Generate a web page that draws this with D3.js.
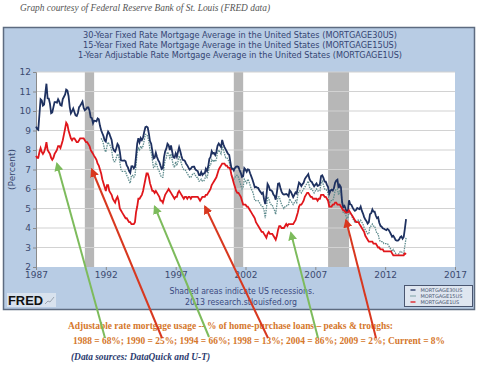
<!DOCTYPE html>
<meta charset="utf-8">
<style>
body { margin: 0; background: #fff; }
svg { display: block; font-family: "DejaVu Sans", Verdana, sans-serif; }
.serif { font-family: "Liberation Serif", "Times New Roman", serif; }
</style>
<svg width="480" height="365"></svg>
<script src="https://cdn.jsdelivr.net/npm/d3@7"></script>
<script>
// monthly values, 30-yr from Jan 1987, 15-yr from Sep 1991, 1-yr ARM from Jan 1987
var start30 = new Date(1987, 0, 1);
var start15 = new Date(1991, 8, 1);
var start1 = new Date(1987, 0, 1);

var rate30 = [
  9.20, 9.08, 9.04, 9.83, 10.60, 10.54, 10.28, 10.33, 10.89, 11.40, 10.65, 10.64,
  10.38, 9.89, 9.93, 10.20, 10.46, 10.46, 10.43, 10.60, 10.48, 10.30, 10.27, 10.61,
  10.73, 10.85, 11.10, 11.05, 10.77, 10.20, 9.88, 9.99, 10.13, 9.95, 9.77, 9.74,
  9.90, 10.20, 10.27, 10.37, 10.48, 10.16, 10.04, 10.10, 10.18, 10.18, 10.01, 9.67,
  9.64, 9.37, 9.50, 9.49, 9.47, 9.62, 9.58, 9.24, 9.01, 8.86, 8.71, 8.50,
  8.43, 8.76, 8.94, 8.85, 8.67, 8.51, 8.13, 7.98, 7.92, 8.09, 8.31, 8.22,
  7.91, 7.47, 7.46, 7.46, 7.47, 7.42, 7.21, 7.11, 6.92, 6.83, 7.16, 7.17,
  7.06, 7.15, 7.68, 8.32, 8.60, 8.40, 8.61, 8.51, 8.64, 8.93, 9.17, 9.20,
  9.15, 8.83, 8.46, 8.32, 7.96, 7.57, 7.61, 7.86, 7.64, 7.48, 7.38, 7.20,
  7.03, 7.08, 7.62, 7.93, 8.07, 8.32, 8.25, 8.00, 8.23, 7.92, 7.62, 7.60,
  7.82, 7.65, 7.90, 8.14, 7.94, 7.69, 7.50, 7.48, 7.43, 7.29, 7.21, 7.10,
  6.99, 7.04, 7.13, 7.14, 7.14, 7.00, 6.95, 6.92, 6.72, 6.71, 6.87, 6.72,
  6.79, 6.81, 7.04, 6.92, 7.15, 7.55, 7.63, 7.94, 7.82, 7.85, 7.74, 7.91,
  8.21, 8.33, 8.24, 8.15, 8.52, 8.29, 8.15, 8.03, 7.91, 7.80, 7.75, 7.38,
  7.03, 7.05, 6.95, 7.08, 7.15, 7.16, 7.13, 6.95, 6.82, 6.62, 6.66, 7.07,
  7.00, 6.89, 7.01, 6.99, 6.81, 6.65, 6.49, 6.29, 6.09, 6.11, 6.07, 6.05,
  5.92, 5.84, 5.75, 5.81, 5.48, 5.23, 5.63, 6.26, 6.15, 5.95, 5.93, 5.88,
  5.71, 5.64, 5.45, 5.83, 6.27, 6.29, 6.06, 5.87, 5.75, 5.72, 5.73, 5.75,
  5.71, 5.63, 5.93, 5.86, 5.72, 5.58, 5.70, 5.82, 5.77, 6.07, 6.33, 6.27,
  6.15, 6.25, 6.32, 6.51, 6.60, 6.68, 6.76, 6.52, 6.40, 6.36, 6.24, 6.14,
  6.22, 6.29, 6.16, 6.18, 6.26, 6.66, 6.70, 6.57, 6.38, 6.38, 6.21, 6.10,
  5.76, 5.92, 5.97, 5.92, 6.04, 6.32, 6.43, 6.48, 6.04, 6.20, 6.09, 5.33,
  5.06, 5.13, 5.00, 4.81, 4.86, 5.42, 5.22, 5.19, 5.06, 4.95, 4.88, 4.93,
  5.03, 4.99, 4.97, 5.10, 4.89, 4.74, 4.56, 4.43, 4.35, 4.23, 4.30, 4.71,
  4.76, 4.95, 4.84, 4.84, 4.64, 4.51, 4.55, 4.27, 4.11, 4.07, 3.99, 3.96,
  3.92, 3.89, 3.95, 3.91, 3.80, 3.68, 3.55, 3.60, 3.50, 3.38, 3.35, 3.35,
  3.41, 3.53, 3.57, 3.45, 3.54, 3.98, 4.46
];

var rate15 = [
  8.6, 8.5, 8.3, 8.0,
  7.9, 8.2, 8.4, 8.3, 8.2, 8.0, 7.6, 7.4, 7.4, 7.6, 7.8, 7.7,
  7.4, 7.0, 6.9, 6.9, 6.9, 6.9, 6.7, 6.6, 6.4, 6.3, 6.7, 6.7,
  6.6, 6.7, 7.2, 7.9, 8.1, 8.0, 8.2, 8.1, 8.2, 8.5, 8.8, 8.8,
  8.7, 8.4, 8.0, 7.9, 7.5, 7.1, 7.1, 7.4, 7.2, 7.0, 6.9, 6.7,
  6.6, 6.6, 7.1, 7.5, 7.6, 7.9, 7.8, 7.6, 7.8, 7.5, 7.2, 7.1,
  7.4, 7.2, 7.4, 7.7, 7.5, 7.3, 7.1, 7.0, 7.0, 6.9, 6.8, 6.7,
  6.6, 6.6, 6.7, 6.8, 6.8, 6.7, 6.6, 6.6, 6.4, 6.4, 6.5, 6.4,
  6.4, 6.5, 6.7, 6.6, 6.8, 7.2, 7.2, 7.5, 7.4, 7.5, 7.4, 7.5,
  7.9, 8.0, 7.9, 7.8, 8.2, 8.0, 7.8, 7.6, 7.6, 7.5, 7.4, 7.1,
  6.7, 6.6, 6.5, 6.6, 6.7, 6.7, 6.6, 6.4, 6.2, 6.0, 6.1, 6.5,
  6.4, 6.3, 6.5, 6.4, 6.2, 6.0, 5.9, 5.7, 5.4, 5.4, 5.4, 5.4,
  5.3, 5.2, 5.1, 5.1, 4.9, 4.5, 5.0, 5.6, 5.5, 5.3, 5.2, 5.2,
  5.0, 4.9, 4.7, 5.2, 5.6, 5.6, 5.4, 5.2, 5.1, 5.0, 5.1, 5.1,
  5.2, 5.2, 5.5, 5.4, 5.3, 5.2, 5.3, 5.4, 5.3, 5.7, 5.9, 5.9,
  5.8, 5.9, 6.0, 6.1, 6.2, 6.3, 6.4, 6.1, 6.0, 6.0, 5.9, 5.8,
  5.9, 6.0, 5.9, 5.9, 5.9, 6.3, 6.4, 6.2, 6.0, 6.0, 5.9, 5.8,
  5.2, 5.4, 5.4, 5.4, 5.6, 5.9, 6.0, 6.0, 5.7, 5.9, 5.9, 5.3,
  4.8, 4.8, 4.7, 4.5, 4.5, 4.9, 4.7, 4.7, 4.5, 4.4, 4.3, 4.3,
  4.4, 4.4, 4.3, 4.4, 4.3, 4.2, 4.0, 3.9, 3.8, 3.7, 3.7, 4.1,
  4.1, 4.2, 4.1, 4.1, 3.9, 3.7, 3.7, 3.4, 3.3, 3.3, 3.3, 3.2,
  3.2, 3.2, 3.2, 3.1, 3.0, 2.9, 2.8, 2.9, 2.8, 2.7, 2.6, 2.6,
  2.7, 2.8, 2.8, 2.7, 2.7, 3.1, 3.5
];

var rate1 = [
  7.7, 7.6, 7.6, 7.9, 8.1, 7.9, 7.8, 7.9, 8.1, 8.4, 8.0, 7.9,
  7.8, 7.6, 7.5, 7.6, 7.8, 7.9, 8.0, 8.2, 8.2, 8.1, 8.3, 8.5,
  8.8, 9.1, 9.4, 9.3, 9.0, 8.8, 8.6, 8.5, 8.6, 8.6, 8.5, 8.4,
  8.4, 8.5, 8.6, 8.6, 8.6, 8.6, 8.5, 8.4, 8.4, 8.3, 8.2, 8.0,
  7.9, 7.8, 7.7, 7.6, 7.5, 7.3, 7.2, 7.0, 6.8, 6.5, 6.3, 6.1,
  5.9, 6.2, 6.2, 5.9, 5.8, 5.7, 5.5, 5.4, 5.3, 5.5, 5.6, 5.4,
  5.0, 4.9, 4.8, 4.7, 4.6, 4.5, 4.5, 4.4, 4.3, 4.3, 4.2, 4.2,
  4.2, 4.3, 4.8, 5.1, 5.5, 5.5, 5.6, 5.7, 5.9, 6.2, 6.5, 6.8,
  6.8, 6.6, 6.3, 6.1, 5.9, 5.9, 5.8, 5.9, 5.8, 5.7, 5.6, 5.4,
  5.4, 5.3, 5.5, 5.7, 5.8, 5.9, 6.0, 5.9, 5.8, 5.7, 5.6, 5.5,
  5.6, 5.6, 5.8, 5.9, 5.8, 5.7, 5.6, 5.5, 5.6, 5.6, 5.5, 5.6,
  5.6, 5.5, 5.6, 5.6, 5.6, 5.6, 5.6, 5.6, 5.5, 5.4, 5.5, 5.6,
  5.6, 5.6, 5.7, 5.7, 5.8, 5.9, 6.0, 6.2, 6.3, 6.4, 6.5, 6.6,
  6.8, 7.0, 7.1, 7.2, 7.3, 7.3, 7.3, 7.2, 7.2, 7.1, 7.1, 7.0,
  6.7, 6.5, 6.3, 6.1, 5.9, 5.8, 5.8, 5.7, 5.6, 5.4, 5.2, 5.2,
  5.2, 5.1, 5.1, 5.0, 4.9, 4.8, 4.7, 4.6, 4.5, 4.3, 4.2, 4.1,
  4.0, 3.9, 3.8, 3.8, 3.7, 3.6, 3.5, 3.7, 3.8, 3.7, 3.7, 3.7,
  3.6, 3.5, 3.4, 3.6, 3.9, 4.1, 4.1, 4.0, 4.0, 4.0, 4.1, 4.2,
  4.1, 4.2, 4.2, 4.2, 4.2, 4.2, 4.3, 4.4, 4.6, 4.8, 5.1, 5.2,
  5.2, 5.3, 5.4, 5.6, 5.7, 5.8, 5.8, 5.7, 5.6, 5.6, 5.5, 5.5,
  5.5, 5.5, 5.4, 5.5, 5.5, 5.7, 5.7, 5.7, 5.6, 5.6, 5.5, 5.4,
  5.1, 5.1, 5.1, 5.2, 5.2, 5.3, 5.3, 5.2, 5.2, 5.2, 5.1, 5.0,
  4.9, 4.9, 4.8, 4.8, 4.8, 4.9, 4.8, 4.7, 4.6, 4.5, 4.4, 4.3,
  4.3, 4.3, 4.2, 4.1, 4.0, 3.9, 3.8, 3.6, 3.5, 3.4, 3.3, 3.3,
  3.3, 3.3, 3.2, 3.2, 3.2, 3.1, 3.0, 3.0, 2.9, 2.9, 2.9, 2.8,
  2.8, 2.8, 2.8, 2.8, 2.8, 2.8, 2.7, 2.6, 2.6, 2.6, 2.6, 2.6,
  2.6, 2.6, 2.6, 2.6, 2.6, 2.7, 2.65
];

var recessions = [[new Date(1990, 6, 1), new Date(1991, 2, 1)],
                  [new Date(2001, 2, 1), new Date(2001, 10, 1)],
                  [new Date(2007, 11, 1), new Date(2009, 5, 1)]];

var yTicks = [2, 3, 4, 5, 6, 7, 8, 9, 10, 11, 12];
var xTicks = [1987, 1992, 1997, 2002, 2007, 2012, 2017];

var titles = [
  "30-Year Fixed Rate Mortgage Average in the United States (MORTGAGE30US)",
  "15-Year Fixed Rate Mortgage Average in the United States (MORTGAGE15US)",
  "1-Year Adjustable Rate Mortgage Average in the United States (MORTGAGE1US)"
];
var legendNames = ["MORTGAGE30US", "MORTGAGE15US", "MORTGAGE1US"];

// arrows: chart point (year, percent) they point at, and pixel start near the note text
var arrows = [
  { to: [1988.5, 7.3], from: [105, 338], c: "#7dbb5c" },
  { to: [1991.0, 7.0], from: [162, 338], c: "#d8381f" },
  { to: [1995.5, 5.1], from: [209, 337], c: "#7dbb5c" },
  { to: [1999.1, 5.1], from: [268, 338], c: "#d8381f" },
  { to: [2005.25, 3.75], from: [318, 338], c: "#7dbb5c" },
  { to: [2009.2, 4.4], from: [376, 338], c: "#d8381f" }
];

var svg = d3.select("svg");

var pL = 36, pR = 455, pT = 72, pB = 267;

var x = d3.scaleTime()
    .domain([new Date(1987, 0, 1), new Date(2017, 0, 1)])
    .range([pL, pR]);
var y = d3.scaleLinear().domain([2, 12]).range([pB, pT]);

function yr(v) {
  var yy = Math.floor(v);
  return new Date(new Date(yy, 0, 1).getTime() + (v - yy) * 365.25 * 864e5);
}

function series(startDate, vals) {
  return vals.map(function(v, i) { return { date: d3.timeMonth.offset(startDate, i), v: v }; });
}

// caption
svg.append("text")
    .attr("class", "serif")
    .attr("x", 20).attr("y", 11)
    .attr("font-size", 10.5)
    .attr("font-style", "italic")
    .attr("fill", "#555")
    .attr("textLength", 250)
    .attr("lengthAdjust", "spacingAndGlyphs")
    .text("Graph courtesy of Federal Reserve Bank of St. Louis (FRED data)");

// panel
svg.append("rect")
    .attr("x", 3.5).attr("y", 27.5)
    .attr("width", 471).attr("height", 282)
    .attr("fill", "#b8cce4")
    .attr("stroke", "#5d6b80")
    .attr("stroke-width", 1.5);

svg.selectAll(".title")
    .data(titles)
  .enter().append("text")
    .attr("x", 240)
    .attr("y", function(d, i) { return 37.5 + i * 10; })
    .attr("text-anchor", "middle")
    .attr("font-size", 8.6)
    .attr("fill", "#354573")
    .attr("textLength", function(d, i) { return i == 2 ? 324 : 314; })
    .attr("lengthAdjust", "spacingAndGlyphs")
    .text(function(d) { return d; });

// plot bg
svg.append("rect")
    .attr("x", pL).attr("y", pT)
    .attr("width", pR - pL).attr("height", pB - pT)
    .attr("fill", "#fff");

svg.selectAll(".rec")
    .data(recessions)
  .enter().append("rect")
    .attr("x", function(d) { return x(d[0]); })
    .attr("y", pT)
    .attr("width", function(d) { return x(d[1]) - x(d[0]); })
    .attr("height", pB - pT)
    .attr("fill", "#b7b7b7");

svg.selectAll(".grid")
    .data(yTicks.slice(1))
  .enter().append("line")
    .attr("x1", pL).attr("x2", pR)
    .attr("y1", function(d) { return y(d); })
    .attr("y2", function(d) { return y(d); })
    .attr("stroke", "#d2d2d2")
    .attr("stroke-width", 1.2);

// axes
var yAxis = svg.append("g")
    .attr("transform", "translate(" + pL + ",0)")
    .call(d3.axisLeft(y).tickValues(yTicks).tickSize(3).tickPadding(2));
var xAxis = svg.append("g")
    .attr("transform", "translate(0," + pB + ")")
    .call(d3.axisBottom(x).tickValues(xTicks.map(function(d) { return new Date(d, 0, 1); }))
      .tickFormat(d3.timeFormat("%Y")).tickSize(3).tickPadding(0));
[yAxis, xAxis].forEach(function(a) {
  a.select(".domain").attr("stroke", "#8a8a8a");
  a.selectAll(".tick line").attr("stroke", "#8a8a8a");
  a.selectAll("text").attr("fill", "#3b4a70").attr("font-size", 9)
    .attr("font-family", "DejaVu Sans, sans-serif");
});
xAxis.select(".domain").remove();
xAxis.selectAll("text").attr("dy", "0.85em");

svg.append("text")
    .attr("transform", "translate(15," + ((pT + pB) / 2) + ") rotate(-90)")
    .attr("text-anchor", "middle")
    .attr("font-size", 9)
    .attr("fill", "#3b4a70")
    .text("(Percent)");

var line = d3.line()
    .x(function(d) { return x(d.date); })
    .y(function(d) { return y(d.v); });

svg.append("path")
    .datum(series(start15, rate15))
    .attr("d", line)
    .attr("fill", "none")
    .attr("stroke", "#5f8c8e")
    .attr("stroke-width", 1.3)
    .attr("stroke-dasharray", "1.5,1");

svg.append("path")
    .datum(series(start30, rate30))
    .attr("d", line)
    .attr("fill", "none")
    .attr("stroke", "#1e3160")
    .attr("stroke-width", 1.8);

svg.append("path")
    .datum(series(start1, rate1))
    .attr("d", line)
    .attr("fill", "none")
    .attr("stroke", "#e0161b")
    .attr("stroke-width", 1.8);

// bottom notes in panel
svg.append("text")
    .attr("x", 242).attr("y", 294)
    .attr("text-anchor", "middle")
    .attr("font-size", 9.5)
    .attr("fill", "#3b4a80")
    .attr("textLength", 145).attr("lengthAdjust", "spacingAndGlyphs")
    .text("Shaded areas indicate US recessions.");
svg.append("text")
    .attr("x", 241).attr("y", 305)
    .attr("text-anchor", "middle")
    .attr("font-size", 9.5)
    .attr("fill", "#3b4a80")
    .attr("textLength", 112).attr("lengthAdjust", "spacingAndGlyphs")
    .text("2013 research.stlouisfed.org");

// FRED logo
svg.append("rect")
    .attr("x", 7).attr("y", 293).attr("width", 49).attr("height", 14)
    .attr("fill", "#d8e2ee");
svg.append("text")
    .attr("x", 8).attr("y", 305)
    .attr("font-size", 13)
    .attr("font-weight", "bold")
    .attr("font-family", "Liberation Sans, Arial, sans-serif")
    .attr("fill", "#111")
    .attr("textLength", 35).attr("lengthAdjust", "spacingAndGlyphs")
    .text("FRED");
svg.append("path")
    .attr("d", "M45,304 L48,301 L50,302 L54,297")
    .attr("fill", "none").attr("stroke", "#9aa4b0").attr("stroke-width", 1);

// legend
var lg = svg.append("g").attr("transform", "translate(404.5,285.5)");
lg.append("rect").attr("width", 68).attr("height", 21)
    .attr("fill", "#dfe6f0").attr("stroke", "#4a5670").attr("stroke-width", 1);
var legStyles = [
  { c: "#1e3160", dash: null },
  { c: "#5f8c8e", dash: "1,1" },
  { c: "#e0161b", dash: null }
];
lg.selectAll(".li")
    .data(legendNames)
  .enter().append("line")
    .attr("x1", 6).attr("x2", 11)
    .attr("y1", function(d, i) { return 4.5 + i * 6; })
    .attr("y2", function(d, i) { return 4.5 + i * 6; })
    .attr("stroke", function(d, i) { return legStyles[i].c; })
    .attr("stroke-width", 1.3)
    .attr("stroke-dasharray", function(d, i) { return legStyles[i].dash; });
lg.selectAll(".lt")
    .data(legendNames)
  .enter().append("text")
    .attr("x", 16)
    .attr("y", function(d, i) { return 6.5 + i * 6; })
    .attr("font-size", 5)
    .attr("fill", "#4a5670")
    .text(function(d) { return d; });

// notes under the chart
svg.append("text")
    .attr("class", "serif")
    .attr("x", 68).attr("y", 329)
    .attr("font-size", 10.5).attr("font-weight", "bold")
    .attr("fill", "#d5772c")
    .attr("textLength", 325).attr("lengthAdjust", "spacingAndGlyphs")
    .text("Adjustable rate mortgage usage -- % of home-purchase loans \u2013 peaks & troughs:");
svg.append("text")
    .attr("class", "serif")
    .attr("x", 73).attr("y", 344)
    .attr("font-size", 10.5).attr("font-weight", "bold")
    .attr("fill", "#d5772c")
    .attr("textLength", 372).attr("lengthAdjust", "spacingAndGlyphs")
    .text("1988 = 68%; 1990 = 25%; 1994 = 66%; 1998 = 13%; 2004 = 86%; 2009 = 2%; Current = 8%");
svg.append("text")
    .attr("class", "serif")
    .attr("x", 71).attr("y", 360)
    .attr("font-size", 10).attr("font-weight", "bold").attr("font-style", "italic")
    .attr("fill", "#2b3a6e")
    .attr("textLength", 139).attr("lengthAdjust", "spacingAndGlyphs")
    .text("(Data sources: DataQuick and U-T)");

// arrows
var defs = svg.append("defs");
["#7dbb5c", "#d8381f"].forEach(function(c, i) {
  defs.append("marker")
      .attr("id", "ah" + i)
      .attr("viewBox", "0 0 10 10")
      .attr("refX", 8).attr("refY", 5)
      .attr("markerWidth", 4.5).attr("markerHeight", 4.5)
      .attr("orient", "auto")
    .append("path")
      .attr("d", "M0,0 L10,5 L0,10 Z")
      .attr("fill", c);
});

svg.selectAll(".arrow")
    .data(arrows)
  .enter().append("line")
    .attr("x1", function(d) { return d.from[0]; })
    .attr("y1", function(d) { return d.from[1]; })
    .attr("x2", function(d) { return x(yr(d.to[0])); })
    .attr("y2", function(d) { return y(d.to[1]); })
    .attr("stroke", function(d) { return d.c; })
    .attr("stroke-width", 2)
    .attr("marker-end", function(d) { return d.c == "#7dbb5c" ? "url(#ah0)" : "url(#ah1)"; });
</script>
